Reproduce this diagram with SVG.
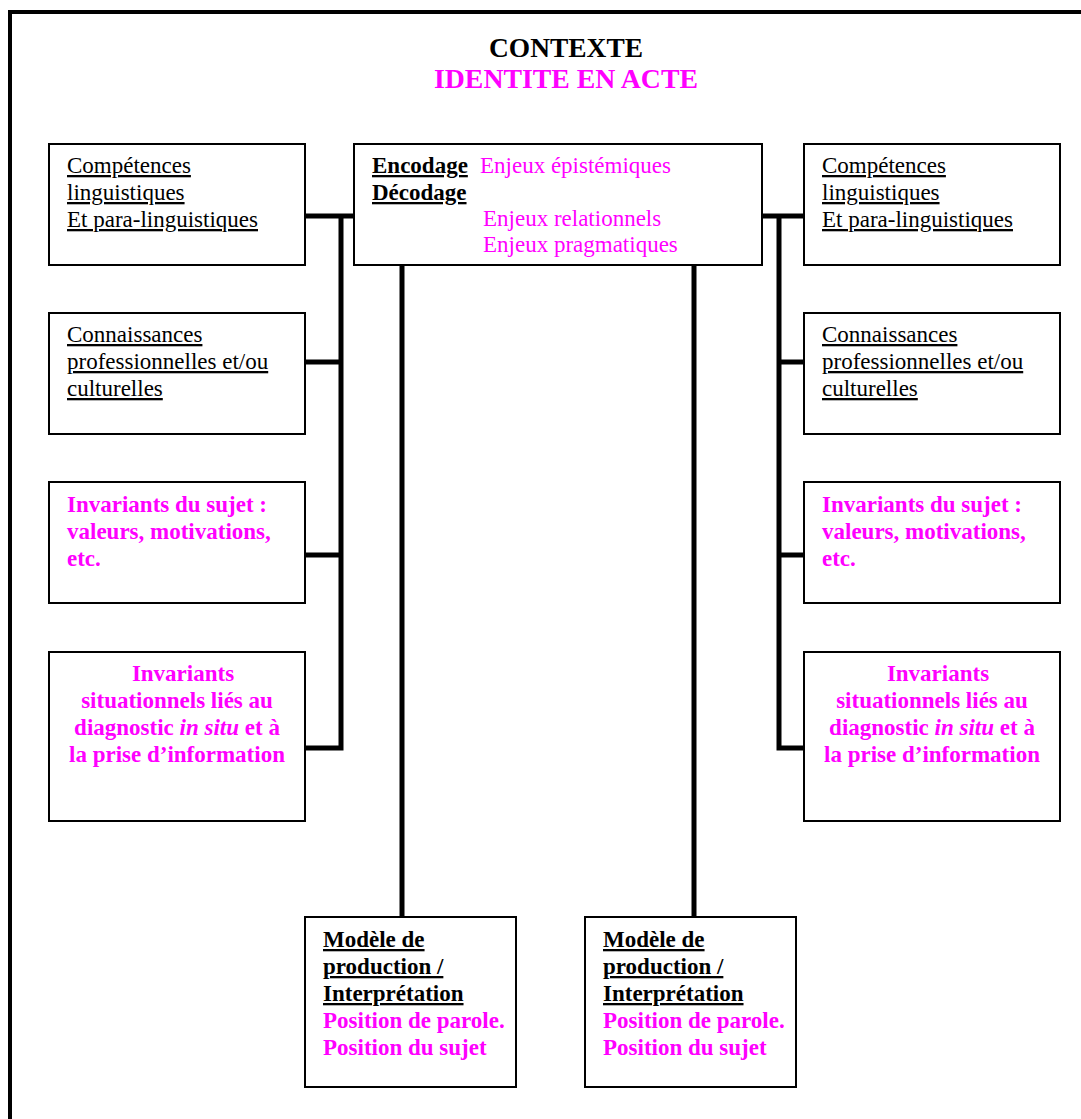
<svg xmlns="http://www.w3.org/2000/svg" width="1081" height="1119" viewBox="0 0 1081 1119">
<style>
.box{fill:#fff;stroke:#000;stroke-width:2}
.t{font-family:"Liberation Serif","Times New Roman",serif;font-size:23px}
.k{fill:#000}
.m{fill:#ff00ff}
.b{font-weight:bold}
.u{text-decoration:underline}
.c{text-anchor:middle}
.con{stroke:#000;stroke-width:5;fill:none}
</style>
<rect x="10" y="12" width="1100" height="1150" fill="#fff" stroke="#000" stroke-width="4"/>
<g id="title">
<text class="t b k c" x="566" y="57" style="font-size:28px" textLength="154" lengthAdjust="spacingAndGlyphs">CONTEXTE</text>
<text class="t b m c" x="566" y="88" style="font-size:28px" textLength="264" lengthAdjust="spacingAndGlyphs">IDENTITE EN ACTE</text>
</g>
<g id="connectors">
<polyline class="con" points="305,216 354,216"/>
<polyline class="con" points="341,216 341,748 305,748"/>
<line class="con" x1="305" y1="362" x2="341" y2="362"/>
<line class="con" x1="305" y1="555" x2="341" y2="555"/>
<polyline class="con" points="755,216 804,216"/>
<polyline class="con" points="779,216 779,748 804,748"/>
<line class="con" x1="779" y1="362" x2="804" y2="362"/>
<line class="con" x1="779" y1="555" x2="804" y2="555"/>
<line class="con" x1="402" y1="265" x2="402" y2="917"/>
<line class="con" x1="694" y1="265" x2="694" y2="917"/>
</g>
<g id="left-competences">
<rect class="box" x="49" y="144" width="256" height="121"/>
<text class="t k u" x="67" y="173">Compétences</text>
<text class="t k u" x="67" y="200">linguistiques</text>
<text class="t k u" x="67" y="227">Et para-linguistiques</text>
</g>
<g id="left-connaissances">
<rect class="box" x="49" y="313" width="256" height="121"/>
<text class="t k u" x="67" y="342">Connaissances</text>
<text class="t k u" x="67" y="369">professionnelles et/ou</text>
<text class="t k u" x="67" y="396">culturelles</text>
</g>
<g id="left-invariants-sujet">
<rect class="box" x="49" y="482" width="256" height="121"/>
<text class="t b m" x="67" y="512">Invariants du sujet :</text>
<text class="t b m" x="67" y="539">valeurs, motivations,</text>
<text class="t b m" x="67" y="566">etc.</text>
</g>
<g id="left-invariants-situationnels">
<rect class="box" x="49" y="652" width="256" height="169"/>
<text class="t b m c" x="183" y="681">Invariants</text>
<text class="t b m c" x="177" y="708">situationnels liés au</text>
<text class="t b m c" x="177" y="735">diagnostic <tspan font-style="italic">in situ</tspan> et à</text>
<text class="t b m c" x="177" y="762">la prise d’information</text>
</g>
<g id="center-encodage">
<rect class="box" x="354" y="144" width="408" height="121"/>
<text class="t b k u" x="372" y="173">Encodage</text>
<text class="t m" x="480" y="173">Enjeux épistémiques</text>
<text class="t b k u" x="372" y="200">Décodage</text>
<text class="t m" x="483" y="226">Enjeux relationnels</text>
<text class="t m" x="483" y="252">Enjeux pragmatiques</text>
</g>
<g id="right-competences">
<rect class="box" x="804" y="144" width="256" height="121"/>
<text class="t k u" x="822" y="173">Compétences</text>
<text class="t k u" x="822" y="200">linguistiques</text>
<text class="t k u" x="822" y="227">Et para-linguistiques</text>
</g>
<g id="right-connaissances">
<rect class="box" x="804" y="313" width="256" height="121"/>
<text class="t k u" x="822" y="342">Connaissances</text>
<text class="t k u" x="822" y="369">professionnelles et/ou</text>
<text class="t k u" x="822" y="396">culturelles</text>
</g>
<g id="right-invariants-sujet">
<rect class="box" x="804" y="482" width="256" height="121"/>
<text class="t b m" x="822" y="512">Invariants du sujet :</text>
<text class="t b m" x="822" y="539">valeurs, motivations,</text>
<text class="t b m" x="822" y="566">etc.</text>
</g>
<g id="right-invariants-situationnels">
<rect class="box" x="804" y="652" width="256" height="169"/>
<text class="t b m c" x="938" y="681">Invariants</text>
<text class="t b m c" x="932" y="708">situationnels liés au</text>
<text class="t b m c" x="932" y="735">diagnostic <tspan font-style="italic">in situ</tspan> et à</text>
<text class="t b m c" x="932" y="762">la prise d’information</text>
</g>
<g id="modele-left">
<rect class="box" x="305" y="917" width="211" height="170"/>
<text class="t b k u" x="323" y="947">Modèle de</text>
<text class="t b k u" x="323" y="974">production /</text>
<text class="t b k u" x="323" y="1001">Interprétation</text>
<text class="t b m" x="323" y="1028">Position de parole.</text>
<text class="t b m" x="323" y="1055">Position du sujet</text>
</g>
<g id="modele-right">
<rect class="box" x="585" y="917" width="211" height="170"/>
<text class="t b k u" x="603" y="947">Modèle de</text>
<text class="t b k u" x="603" y="974">production /</text>
<text class="t b k u" x="603" y="1001">Interprétation</text>
<text class="t b m" x="603" y="1028">Position de parole.</text>
<text class="t b m" x="603" y="1055">Position du sujet</text>
</g>
</svg>
